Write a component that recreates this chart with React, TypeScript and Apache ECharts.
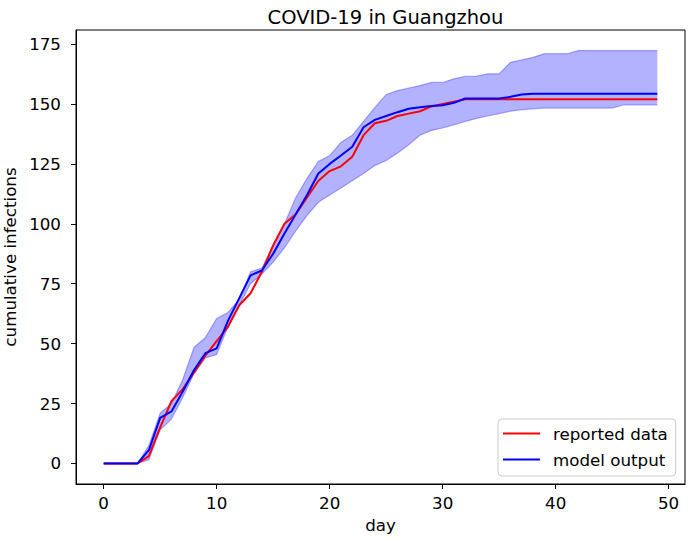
import React, { useEffect, useRef } from "react";
import * as echarts from "echarts";

const titleText = "COVID-19 in Guangzhou";
const xTicks = [0, 10, 20, 30, 40, 50];
const yTicks = [0, 25, 50, 75, 100, 125, 150, 175];

const reported = [
  0, 0, 0, 0, 3, 15, 26, 31, 38, 45,
  51, 57, 66, 71, 80, 91, 100, 104, 111, 118,
  122, 124, 128, 137, 142, 143, 145, 146, 147, 149,
  150, 151, 152, 152, 152, 152, 152, 152, 152, 152,
  152, 152, 152, 152, 152, 152, 152, 152, 152, 152,
];

const model = [
  0, 0, 0, 0, 5.5, 19, 21.7, 30, 39, 46,
  48, 59.5, 69, 78.5, 80.5, 87.5, 96, 104, 112, 121,
  125, 128.5, 132.2, 140.3, 143.4, 145, 146.6, 148, 148.7, 149.2,
  149.5, 150.5, 152.3, 152.3, 152.3, 152.3, 153, 154, 154.3, 154.3,
  154.3, 154.3, 154.3, 154.3, 154.3, 154.3, 154.3, 154.3, 154.3, 154.3,
];

const bandUpper = [
  0, 0, 0, 0, 7.5, 21, 25, 35, 48.5, 52.5,
  60.5, 63, 68.5, 80, 81.5, 91, 100, 111, 119, 126,
  128.5, 134, 137, 142.8, 148.6, 154, 155.6, 156.7, 157.7, 159,
  159, 160.5, 161.6, 161.7, 162.6, 162.6, 167.4, 168.4, 169.5, 171,
  171, 171, 172.3, 172.3, 172.3, 172.3, 172.3, 172.3, 172.3, 172.3,
];

const bandLower = [
  0, 0, 0, 0, 1.5, 14, 18.5, 27.5, 37.5, 44,
  45.5, 57, 66, 75, 79, 84, 90, 97, 103.5, 109,
  112, 115, 118, 121, 124.3, 126.4, 129.5, 133, 137, 139,
  140, 141.3, 142.7, 144, 145, 146, 147, 147.6, 148, 148.3,
  148.3, 148.3, 148.3, 148.3, 148.3, 148.3, 149.6, 149.6, 149.6, 149.6,
];

const days = reported.map((_, i) => i);

const FONT = "DejaVu Sans";
const FS = 16.7;

export default function App() {
  const ref = useRef<HTMLDivElement>(null);

  useEffect(() => {
    if (!ref.current) return;
    const chart = echarts.init(ref.current, null, { renderer: "svg" });
    const pair = (arr: number[]) => arr.map((v, i) => [days[i], v]);
    const bandData = days.map((d, i) => [d, bandLower[i], bandUpper[i]]);

    chart.setOption({
      animation: false,
      backgroundColor: "#ffffff",
      textStyle: { fontFamily: FONT },
      title: {
        text: titleText,
        left: 380.5,
        top: 2,
        textAlign: "center",
        textStyle: { fontFamily: FONT, fontSize: 19.5, fontWeight: "normal", color: "#000" },
      },
      grid: {
        left: 76,
        top: 30,
        right: 7,
        bottom: 57,
        containLabel: false,
        outerBoundsMode: "none",
        show: true,
        borderColor: "#000",
        borderWidth: 1,
        backgroundColor: "transparent",
      },
      legend: {
        data: ["reported data", "model output"],
        orient: "vertical",
        left: 498,
        top: 419,
        padding: [5, 8, 7, 5],
        icon: "rect",
        itemWidth: 37,
        itemHeight: 2,
        itemGap: 7,
        backgroundColor: "#ffffff",
        borderColor: "#cccccc",
        borderWidth: 1,
        borderRadius: 4,
        textStyle: {
          fontFamily: FONT,
          fontSize: FS,
          lineHeight: 19,
          color: "#000",
          padding: [0, 0, 0, 8],
        },
      },
      xAxis: {
        type: "value",
        min: -2.45,
        max: 51.45,
        name: "day",
        nameLocation: "middle",
        nameGap: 32,
        nameTextStyle: { fontFamily: FONT, fontSize: FS, color: "#000" },
        axisLine: { show: true, onZero: false, lineStyle: { color: "#000", width: 1 } },
        axisTick: { show: true, length: 5, customValues: xTicks, lineStyle: { color: "#000", width: 1 } },
        axisLabel: { customValues: xTicks, fontFamily: FONT, fontSize: FS, color: "#000", margin: 10 },
        splitLine: { show: false },
      },
      yAxis: {
        type: "value",
        min: -8.6,
        max: 180.9,
        name: "cumulative infections",
        nameLocation: "middle",
        nameGap: 55,
        nameRotate: 90,
        nameTextStyle: { fontFamily: FONT, fontSize: FS, color: "#000" },
        axisLine: { show: true, onZero: false, lineStyle: { color: "#000", width: 1 } },
        axisTick: { show: true, length: 5, customValues: yTicks, lineStyle: { color: "#000", width: 1 } },
        axisLabel: { customValues: yTicks, fontFamily: FONT, fontSize: FS, color: "#000", margin: 15 },
        splitLine: { show: false },
      },
      series: [
        {
          name: "band",
          type: "custom",
          data: bandData,
          silent: true,
          clip: true,
          z: 1,
          encode: { x: 0, y: [1, 2] },
          renderItem: (params: any, api: any) => {
            if (params.dataIndex !== 0) return null;
            const lowerPts = bandData.map((r) => api.coord([r[0], r[1]]));
            const upperPts = bandData.map((r) => api.coord([r[0], r[2]]));
            const poly = upperPts.concat(lowerPts.slice().reverse());
            return {
              type: "group",
              children: [
                {
                  type: "polygon",
                  shape: { points: poly },
                  style: { fill: "rgba(0,0,255,0.3)", stroke: "none" },
                },
                {
                  type: "polyline",
                  shape: { points: upperPts },
                  style: { fill: "none", stroke: "rgba(0,0,255,0.3)", lineWidth: 1.2 },
                },
                {
                  type: "polyline",
                  shape: { points: lowerPts },
                  style: { fill: "none", stroke: "rgba(0,0,255,0.3)", lineWidth: 1.2 },
                },
              ],
            };
          },
        },
        {
          name: "reported data",
          type: "line",
          data: pair(reported),
          symbol: "none",
          itemStyle: { color: "#ff0000" },
          lineStyle: { color: "#ff0000", width: 2 },
          z: 3,
        },
        {
          name: "model output",
          type: "line",
          data: pair(model),
          symbol: "none",
          itemStyle: { color: "#0000ff" },
          lineStyle: { color: "#0000ff", width: 2 },
          z: 4,
        },
      ],
    });
    return () => chart.dispose();
  }, []);

  return (
    <div
      ref={ref}
      style={{ position: "fixed", left: 0, top: 0, width: 692, height: 541, background: "#fff" }}
    />
  );
}
